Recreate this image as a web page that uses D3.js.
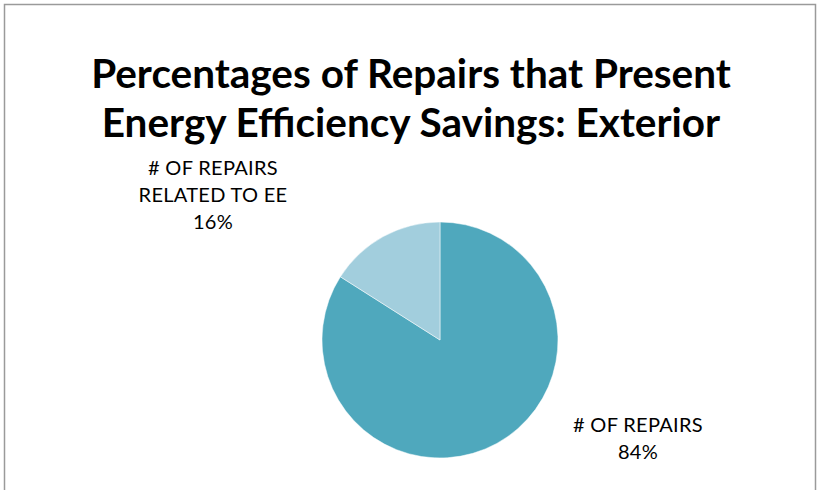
<!DOCTYPE html>
<html>
<head>
<meta charset="utf-8">
<script src="https://cdn.jsdelivr.net/npm/d3@7"></script>
<style>
  body { margin: 0; background: #fff; }
  text { font-family: Lato, "Open Sans", sans-serif; fill: #000; }
</style>
</head>
<body>
<svg id="chart"></svg>
<script>
const categories = ['# OF REPAIRS', '# OF REPAIRS RELATED TO EE'];
const values = [84, 16];
const labelLines = [['# OF REPAIRS', '84%'], ['# OF REPAIRS', 'RELATED TO EE', '16%']];
const colors = ['#4fa8bd', '#a2cedd'];

function makeChart() {
	let w = 820;
	let h = 490;

	let chart = d3.select('#chart')
		.attr('width', w)
		.attr('height', h);

	// outer border
	chart.append('rect')
		.attr('x', 4.5)
		.attr('y', 4.5)
		.attr('width', 811)
		.attr('height', 500)
		.attr('fill', 'none')
		.attr('stroke', '#9a9a9a')
		.attr('stroke-width', 1.5);

	// title
	let title = chart.append('text')
		.attr('x', 411)
		.attr('text-anchor', 'middle')
		.style('font-size', '40.5px')
		.style('font-weight', 'bold');
	title.append('tspan').attr('x', 411).attr('y', 88).text('Percentages of Repairs that Present');
	title.append('tspan').attr('x', 411).attr('y', 137).text('Energy Efficiency Savings: Exterior');

	let cx = 440, cy = 340, r = 118;
	let color = d3.scaleOrdinal().domain(categories).range(colors);

	let pie = d3.pie().sort(null).value(d => d);
	let arc = d3.arc().innerRadius(0).outerRadius(r);

	let g = chart.append('g').attr('transform', `translate(${cx}, ${cy})`);
	g.selectAll('path')
		.data(pie(values))
		.enter()
		.append('path')
		.attr('d', arc)
		.attr('fill', (d, i) => color(categories[i]))
		.attr('stroke', '#fff')
		.attr('stroke-width', 0.5);

	// data labels
	let labelPos = [[638, 432], [213, 175]];
	labelPos.forEach((p, i) => {
		let t = chart.append('text')
			.attr('text-anchor', 'middle')
			.style('font-size', '20px')
			.style('letter-spacing', '0.3px');
		labelLines[i].forEach((line, j) => {
			t.append('tspan').attr('x', p[0]).attr('y', p[1] + j * 27).text(line);
		});
	});
}

window.onload = function () {
	makeChart();
}
</script>
</body>
</html>
